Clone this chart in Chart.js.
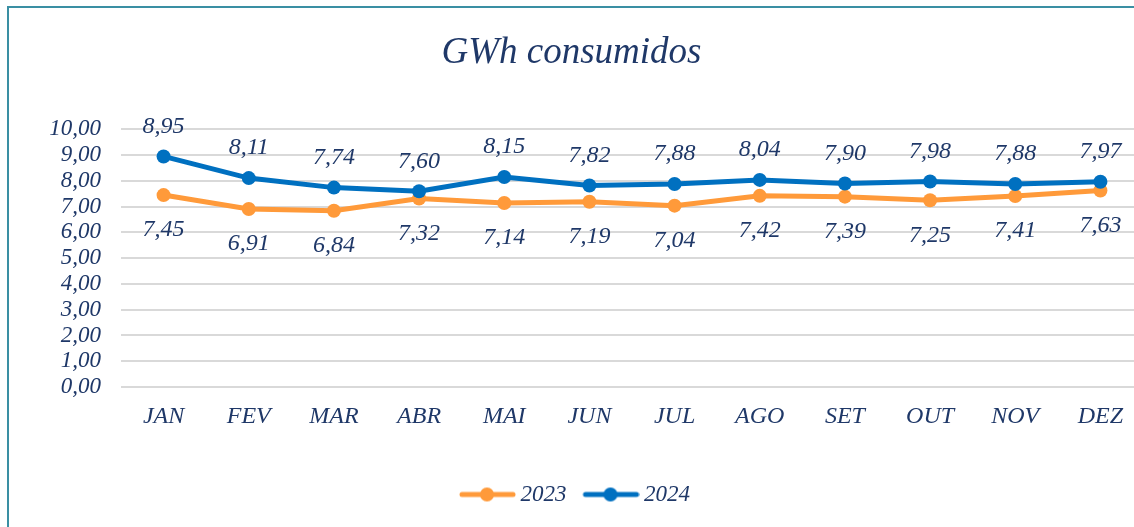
<!DOCTYPE html>
<html>
<head>
<meta charset="utf-8">
<script src="https://cdn.jsdelivr.net/npm/chart.js@4/dist/chart.umd.min.js"></script>
<style>
    html, body { margin: 0; padding: 0; background: #fff; overflow: hidden; }
    body { width: 1134px; height: 527px; position: relative; }
    #frame { position: absolute; left: 7px; top: 6px; width: 1300px; height: 700px;
             border-left: 2px solid #3a8fa3; border-top: 2px solid #3a8fa3; }
    #wrap { position: absolute; left: 0; top: 0; width: 1152px; height: 527px; }
</style>
</head>
<body>
<div id="frame"></div>
<div id="wrap"><canvas id="chart"></canvas></div>
<script>
const months = ['JAN', 'FEV', 'MAR', 'ABR', 'MAI', 'JUN', 'JUL', 'AGO', 'SET', 'OUT', 'NOV', 'DEZ'];
const values2023 = [7.45, 6.91, 6.84, 7.32, 7.14, 7.19, 7.04, 7.42, 7.39, 7.25, 7.41, 7.63];
const values2024 = [8.95, 8.11, 7.74, 7.60, 8.15, 7.82, 7.88, 8.04, 7.90, 7.98, 7.88, 7.97];

const orange = '#ff9a3a';
const blue = '#0070c0';
const navy = '#1f3868';
const serif = "'Liberation Serif', 'Times New Roman', serif";

function fmt(v) {
    return v.toFixed(2).replace('.', ',');
}

// legend swatch: a short line with a dot in the middle (shifted right so it sits close to its text)
function legendSwatch(color) {
    const c = document.createElement('canvas');
    c.width = 70;
    c.height = 16;
    const ctx = c.getContext('2d');
    ctx.strokeStyle = color;
    ctx.lineWidth = 5;
    ctx.lineCap = 'round';
    ctx.beginPath();
    ctx.moveTo(16, 8);
    ctx.lineTo(67, 8);
    ctx.stroke();
    ctx.fillStyle = color;
    ctx.beginPath();
    ctx.arc(41, 8, 7, 0, Math.PI * 2);
    ctx.fill();
    return c;
}
const swatches = [legendSwatch(orange), legendSwatch(blue)];

// values written above (2024) or below (2023) each point
const valueLabels = {
    id: 'valueLabels',
    afterDatasetsDraw(chart) {
        const ctx = chart.ctx;
        ctx.save();
        ctx.font = 'italic 24px ' + serif;
        ctx.fillStyle = navy;
        ctx.textAlign = 'center';
        ctx.textBaseline = 'middle';
        chart.data.datasets.forEach((ds, i) => {
            const meta = chart.getDatasetMeta(i);
            const dy = ds.label === '2024' ? -30 : 35;
            meta.data.forEach((pt, j) => {
                ctx.fillText(fmt(ds.data[j]), pt.x, pt.y + dy);
            });
        });
        ctx.restore();
    }
};

new Chart(document.getElementById('chart'), {
    type: 'line',
    data: {
        labels: months,
        datasets: [
            { label: '2023', data: values2023, borderColor: orange, backgroundColor: orange, order: 2 },
            { label: '2024', data: values2024, borderColor: blue, backgroundColor: blue, order: 1 }
        ]
    },
    options: {
        responsive: true,
        maintainAspectRatio: false,
        animation: false,
        layout: { padding: { top: 0, right: 9, bottom: 11, left: 0 } },
        elements: {
            line: { borderWidth: 5, tension: 0 },
            point: { radius: 7, borderWidth: 0, hoverRadius: 7 }
        },
        scales: {
            x: {
                offset: true,
                grid: { display: false, drawTicks: false },
                border: { display: false },
                ticks: { color: navy, font: { family: serif, size: 24, style: 'italic' }, padding: 15 },
                afterFit(scale) { scale.height = 86; }
            },
            y: {
                min: 0,
                max: 10,
                grid: { color: '#d9d9d9', lineWidth: 2, drawTicks: false },
                border: { display: false },
                ticks: {
                    stepSize: 1,
                    autoSkip: false,
                    color: navy,
                    font: { family: serif, size: 23, style: 'italic' },
                    padding: 20,
                    callback: v => fmt(v)
                },
                afterFit(scale) { scale.width = 121; }
            }
        },
        plugins: {
            title: {
                display: true,
                text: 'GWh consumidos',
                color: navy,
                font: { family: serif, size: 37, style: 'italic', weight: 'normal' },
                padding: { top: 31, bottom: 54 }
            },
            legend: {
                position: 'bottom',
                labels: {
                    usePointStyle: true,
                    pointStyleWidth: 56,
                    color: navy,
                    font: { family: serif, size: 23, style: 'italic' },
                    padding: 10,
                    sort: (a, b) => a.datasetIndex - b.datasetIndex,
                    generateLabels(chart) {
                        const items = Chart.defaults.plugins.legend.labels.generateLabels(chart);
                        items.forEach(it => { it.pointStyle = swatches[it.datasetIndex]; });
                        return items;
                    }
                }
            },
            tooltip: { enabled: false }
        }
    },
    plugins: [valueLabels]
});
</script>
</body>
</html>
